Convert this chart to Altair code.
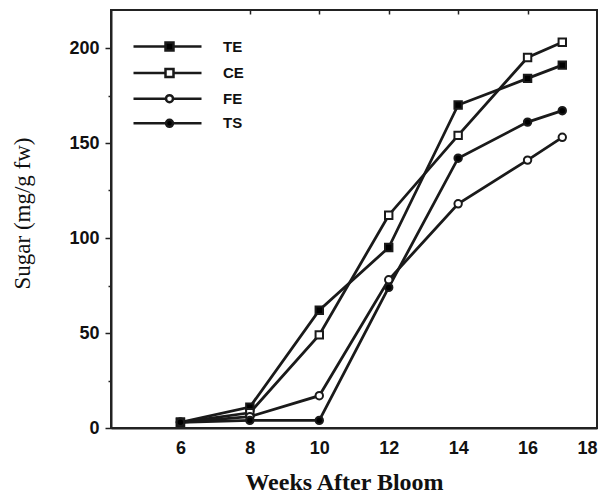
import altair as alt
import pandas as pd

weeks = [6, 8, 10, 12, 14, 16, 17]
te = [3, 11, 62, 95, 170, 184, 191]
ce = [3, 8, 49, 112, 154, 195, 203]
fe = [3, 6, 17, 78, 118, 141, 153]
ts = [3, 4, 4, 74, 142, 161, 167]
series = ["TE", "CE", "FE", "TS"]
x_ticks = [6, 8, 10, 12, 14, 16, 18]
x_inner_ticks = [8, 10, 12, 14, 16]
y_ticks = [0, 25, 50, 75, 100, 125, 150, 175, 200]

values = {"TE": te, "CE": ce, "FE": fe, "TS": ts}
rows = []
for s in series:
    for w, v in zip(weeks, values[s]):
        rows.append({"week": w, "sugar": v, "series": s})
df = pd.DataFrame(rows)

point_shapes = ["square", "square", "circle", "circle"]
fills = ["black", "white", "white", "black"]
strokes = ["#1a1a1a", "#1a1a1a", "#1a1a1a", "#1a1a1a"]
sq = "M-4,-4H4V4H-4Z"
ci = "M3.5,0A3.5,3.5,0,1,1,-3.5,0A3.5,3.5,0,1,1,3.5,0Z"
legend_shapes = [
    "M-36,0H-4M4,0H32" + sq,
    "M-36,0H-4M4,0H32" + sq,
    "M-36,0H-3.5M3.5,0H32" + ci,
    "M-36,0H-3.5M3.5,0H32" + ci,
]

xscale = alt.Scale(domain=[4, 18], nice=False, zero=False)
yscale = alt.Scale(domain=[0, 220], nice=False)

x_main = alt.X(
    "week:Q",
    scale=xscale,
    axis=alt.Axis(
        values=x_ticks, title="Weeks After Bloom", grid=False,
        tickSize=0, labelPadding=11,
        labelFont="Liberation Sans", labelFontSize=18, labelFontWeight="bold",
        labelColor="#111", domainColor="#222", domainWidth=2,
        titleFont="Liberation Serif", titleFontSize=24, titleFontWeight="bold",
        titleColor="#111", titleX=233, titleY=42, titleBaseline="top",
    ),
)
y_main = alt.Y(
    "sugar:Q",
    scale=yscale,
    axis=alt.Axis(
        values=y_ticks, title="Sugar (mg/g fw)", grid=False,
        labelExpr="datum.value % 50 === 0 ? datum.label : ''",
        tickSize={"condition": {"test": "datum.value % 50 === 0", "value": 6}, "value": 3},
        tickColor="#222", tickWidth=1.5, labelPadding=6,
        labelFont="Liberation Sans", labelFontSize=18, labelFontWeight="bold",
        labelColor="#111", domainColor="#222", domainWidth=2,
        titleFont="Liberation Serif", titleFontSize=23, titleFontWeight="normal",
        titleColor="#111", titleX=-77, titleY=203, titleBaseline="bottom",
    ),
)

base = alt.Chart(df)

lines = base.mark_line(color="#1a1a1a", strokeWidth=2.8).encode(
    x=x_main, y=y_main, detail="series:N"
)

points = base.mark_point(filled=True, stroke="#1a1a1a", strokeWidth=2, size=55, opacity=1).encode(
    x=alt.X("week:Q", scale=xscale, axis=alt.Axis(
        values=x_inner_ticks, offset=-4, tickSize=4, labels=False, domain=False,
        title=None, grid=False, tickColor="#222", tickWidth=1.5)),
    y=alt.Y("sugar:Q", scale=yscale, axis=None),
    shape=alt.Shape("series:N", scale=alt.Scale(domain=series, range=point_shapes), legend=None),
    fill=alt.Fill("series:N", scale=alt.Scale(domain=series, range=fills), legend=None),
)

leg = alt.Legend(
    orient="none", legendX=51, legendY=29, title=None,
    symbolSize=4, symbolStrokeWidth=2.5, symbolStrokeColor="#1a1a1a",
    labelOffset=46, labelFont="Liberation Sans", labelFontSize=15,
    labelFontWeight="bold", labelColor="#111", rowPadding=7.6,
)
legend_layer = base.transform_filter("false").mark_point(
    filled=True, size=4, strokeWidth=2.5, opacity=1
).encode(
    x=alt.X("week:Q", scale=xscale, axis=None),
    y=alt.Y("sugar:Q", scale=yscale, axis=None),
    shape=alt.Shape("series:N", scale=alt.Scale(domain=series, range=legend_shapes), legend=leg),
    fill=alt.Fill("series:N", scale=alt.Scale(domain=series, range=fills), legend=leg),
    stroke=alt.Stroke("series:N", scale=alt.Scale(domain=series, range=strokes), legend=leg),
)

chart = alt.layer(lines, points, legend_layer).resolve_scale(
    shape="independent", fill="independent", stroke="independent"
).resolve_axis(x="independent", y="independent").properties(
    width=486, height=418,
    autosize=alt.AutoSizeParams(type="none"),
    padding={"left": 103, "top": 2, "right": 8, "bottom": 70},
    background="white",
).configure_view(stroke="#222", strokeWidth=2)

chart.save("out.html", embed_options={"renderer": "svg", "actions": False})
